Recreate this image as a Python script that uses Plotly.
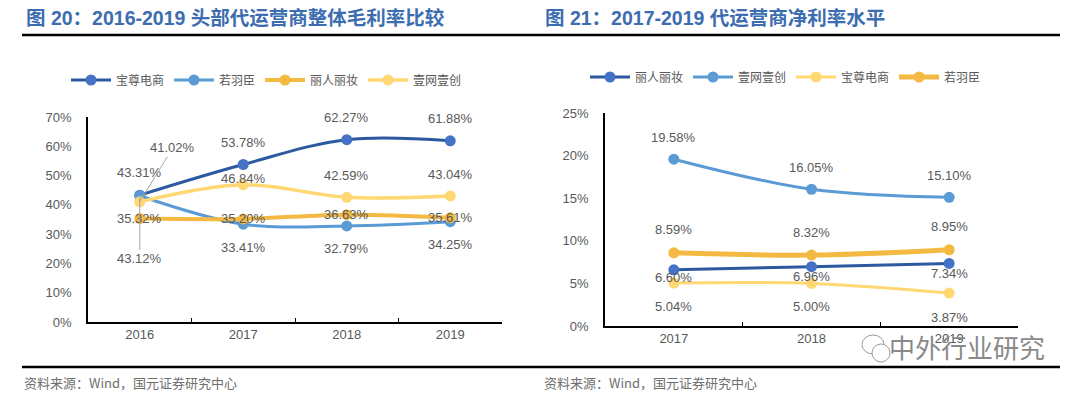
import plotly.graph_objects as go

# ---------------- data ----------------
years_gm = ["2016", "2017", "2018", "2019"]
gm_baozun = [43.31, 53.78, 62.27, 61.88]      # 宝尊电商
gm_ruoyuchen = [43.12, 33.41, 32.79, 34.25]   # 若羽臣
gm_liren = [35.32, 35.20, 36.63, 35.61]       # 丽人丽妆
gm_yiwang = [41.02, 46.84, 42.59, 43.04]      # 壹网壹创
yticks_gm = [0, 10, 20, 30, 40, 50, 60, 70]

years_nm = ["2017", "2018", "2019"]
nm_liren = [6.60, 6.96, 7.34]                 # 丽人丽妆
nm_yiwang = [19.58, 16.05, 15.10]             # 壹网壹创
nm_baozun = [5.04, 5.00, 3.87]                # 宝尊电商
nm_ruoyuchen = [8.59, 8.32, 8.95]             # 若羽臣
yticks_nm = [0, 5, 10, 15, 20, 25]

title_left = "图 20：2016-2019 头部代运营商整体毛利率比较"
title_right = "图 21：2017-2019 代运营商净利率水平"
source_text = "资料来源：Wind，国元证券研究中心"
watermark = "中外行业研究"

PCT = "&#37;"  # percent sign as an entity

# ---------------- styles ----------------
C_DARK = "#2C5AA0"
C_DARK_M = "#4472C4"
C_MID = "#5B9BD5"
C_ORANGE = "#F4B942"
C_YELLOW = "#FFD773"
GRAY = "#595959"
LATIN = "Liberation Sans, Arial, Noto Sans CJK SC"
CJK = "Noto Sans CJK SC, Liberation Sans"

W, H = 1080, 396


def px_x(p):
    return p / W


def px_y(p):
    return (H - p) / H


fig = go.Figure()


def add_line(x, y, name, color, mcolor, width, xa, ya, legend):
    fig.add_trace(go.Scatter(
        x=x, y=y, name=name, mode="lines+markers",
        line=dict(color=color, width=width, shape="spline", smoothing=1.0),
        marker=dict(size=11, color=mcolor, line=dict(width=0)),
        xaxis=xa, yaxis=ya, legend=legend, hoverinfo="skip"))


# left chart
add_line(years_gm, gm_baozun, "宝尊电商", C_DARK, C_DARK_M, 3, "x", "y", "legend")
add_line(years_gm, gm_ruoyuchen, "若羽臣", C_MID, C_MID, 3, "x", "y", "legend")
add_line(years_gm, gm_liren, "丽人丽妆", C_ORANGE, C_ORANGE, 4, "x", "y", "legend")
add_line(years_gm, gm_yiwang, "壹网壹创", C_YELLOW, C_YELLOW, 3.5, "x", "y", "legend")

# right chart
add_line(years_nm, nm_liren, "丽人丽妆", C_DARK, C_DARK_M, 3, "x2", "y2", "legend2")
add_line(years_nm, nm_yiwang, "壹网壹创", C_MID, C_MID, 3, "x2", "y2", "legend2")
add_line(years_nm, nm_baozun, "宝尊电商", C_YELLOW, C_YELLOW, 3, "x2", "y2", "legend2")
add_line(years_nm, nm_ruoyuchen, "若羽臣", C_ORANGE, C_ORANGE, 5, "x2", "y2", "legend2")

annotations = []


def labels(y, shifts, xa, ya, skip=()):
    for i, yy in enumerate(y):
        if i in skip:
            continue
        annotations.append(dict(
            x=i, y=yy, xref=xa, yref=ya, text=f"{yy:.2f}{PCT}", showarrow=False,
            yshift=shifts[i], font=dict(family=LATIN, size=13, color=GRAY)))


labels(gm_baozun, [23, 22, 22, 22], "x", "y")
labels(gm_ruoyuchen, [0, -23, -23, -23], "x", "y", skip=(0,))
labels(gm_liren, [0, 0, 0, 0], "x", "y")
labels(gm_yiwang, [0, 6, 22, 21], "x", "y", skip=(0,))

# leader-line labels
annotations.append(dict(
    x=0, y=gm_yiwang[0], xref="x", yref="y", text=f"{gm_yiwang[0]:.2f}{PCT}",
    showarrow=True, arrowhead=0, arrowwidth=1, arrowcolor="#A6A6A6", ax=33, ay=-54,
    standoff=0, font=dict(family=LATIN, size=13, color=GRAY)))
annotations.append(dict(
    x=0, y=gm_ruoyuchen[0], xref="x", yref="y", text=f"{gm_ruoyuchen[0]:.2f}{PCT}",
    showarrow=True, arrowhead=0, arrowwidth=1, arrowcolor="#A6A6A6", ax=0, ay=63,
    standoff=0, font=dict(family=LATIN, size=13, color=GRAY)))

labels(nm_liren, [-8, -10, -10], "x2", "y2")
labels(nm_yiwang, [22, 22, 22], "x2", "y2")
labels(nm_baozun, [-23, -23, -24], "x2", "y2")
labels(nm_ruoyuchen, [23, 23, 23], "x2", "y2")

# titles, sources, watermark
for txt, x in [(title_left, 24), (title_right, 543)]:
    annotations.append(dict(
        x=px_x(x), y=px_y(18), xref="paper", yref="paper", xanchor="left", yanchor="middle",
        text=f"<b>{txt}</b>", showarrow=False,
        font=dict(family=LATIN, size=19.5, color="#3C6DB0")))
for x in [22, 542]:
    annotations.append(dict(
        x=px_x(x), y=px_y(382), xref="paper", yref="paper", xanchor="left", yanchor="middle",
        text=source_text, showarrow=False, font=dict(family=CJK, size=13, color="#6E6E6E")))
annotations.append(dict(
    x=px_x(887), y=px_y(346), xref="paper", yref="paper", xanchor="left", yanchor="middle",
    text=watermark, showarrow=False, font=dict(family=CJK, size=26, color="#8A8A8A")))

shapes = [
    dict(type="line", xref="paper", yref="paper", x0=px_x(22), x1=px_x(1060),
         y0=px_y(35), y1=px_y(35), line=dict(color="#000000", width=2.5)),
    dict(type="line", xref="paper", yref="paper", x0=px_x(22), x1=px_x(1060),
         y0=px_y(367), y1=px_y(367), line=dict(color="#000000", width=2.5)),
    # wechat-like icon of watermark
    dict(type="circle", xref="paper", yref="paper", x0=px_x(862), x1=px_x(884),
         y0=px_y(354), y1=px_y(335), line=dict(color="#9A9A9A", width=1)),
    dict(type="circle", xref="paper", yref="paper", x0=px_x(872), x1=px_x(890),
         y0=px_y(362), y1=px_y(344), line=dict(color="#9A9A9A", width=1), fillcolor="white"),
]

xaxis_common = dict(type="category", showline=True, linecolor="#000000", linewidth=1.5,
                    ticks="inside", ticklen=4, tickcolor="#000000", tickson="boundaries",
                    showgrid=False, zeroline=False, fixedrange=True, automargin=False,
                    tickfont=dict(family=LATIN, size=13, color=GRAY))
yaxis_common = dict(showline=True, linecolor="#000000", linewidth=1.5, ticks="",
                    showgrid=False, zeroline=False, ticklabelstandoff=12, automargin=False,
                    fixedrange=True, tickfont=dict(family=LATIN, size=13, color=GRAY))

fig.update_layout(
    width=W, height=H, margin=dict(l=0, r=0, t=0, b=0, pad=0, autoexpand=False),
    paper_bgcolor="white", plot_bgcolor="white",
    xaxis=dict(xaxis_common, domain=[px_x(88), px_x(502)], range=[-0.5, 3.5], anchor="y"),
    yaxis=dict(yaxis_common, domain=[px_y(322), px_y(117)], range=[0, 70],
               tickvals=yticks_gm, ticktext=[f"{v}{PCT}" for v in yticks_gm], anchor="x"),
    xaxis2=dict(xaxis_common, domain=[px_x(605), px_x(1018)], range=[-0.5, 2.5], anchor="y2"),
    yaxis2=dict(yaxis_common, domain=[px_y(326), px_y(113)], range=[0, 25],
                tickvals=yticks_nm, ticktext=[f"{v}{PCT}" for v in yticks_nm], anchor="x2"),
    legend=dict(orientation="h", x=px_x(66), y=px_y(80), xanchor="left", yanchor="middle",
                font=dict(family=CJK, size=12, color=GRAY), bgcolor="rgba(0,0,0,0)",
                itemwidth=40),
    legend2=dict(orientation="h", x=px_x(585), y=px_y(77), xanchor="left", yanchor="middle",
                 font=dict(family=CJK, size=12, color=GRAY), bgcolor="rgba(0,0,0,0)",
                 itemwidth=40),
    annotations=annotations, shapes=shapes, showlegend=True, hovermode=False,
)

fig.write_html(
    "out.html",
    config={"displayModeBar": False},
    post_script="document.body.style.margin='0';document.body.style.padding='0';"
                "document.body.style.overflow='hidden';",
)
